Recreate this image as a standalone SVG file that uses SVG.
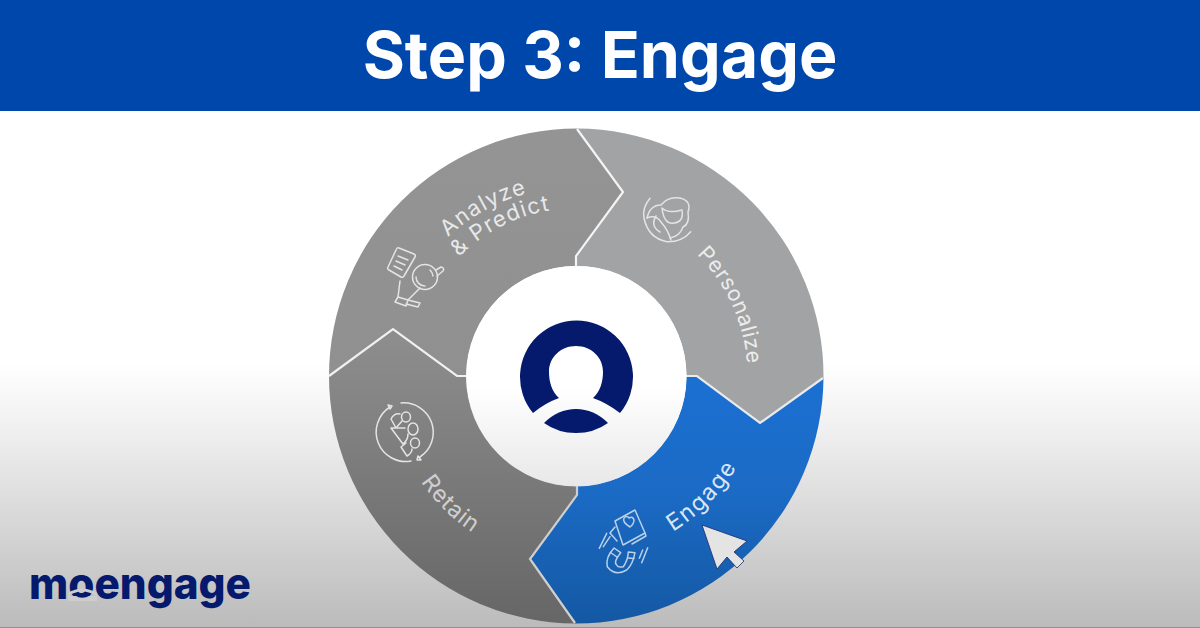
<svg xmlns="http://www.w3.org/2000/svg" width="1200" height="628" viewBox="0 0 1200 628">
<style>
.lab{font-family:"Inter","Liberation Sans",sans-serif;font-size:21.500px;font-weight:400;letter-spacing:.5px}
.wide{font-size:23px;letter-spacing:1px}
.pred{font-size:22px;letter-spacing:1.200px}
.ico{fill:none;stroke:#e4e4e4;stroke-width:1.500;stroke-linecap:round;stroke-linejoin:round}
.ico2{fill:none;stroke:#b9d0ea;stroke-width:1.500;stroke-linecap:round;stroke-linejoin:round}
.div{fill:none;stroke-width:2.200;stroke-linejoin:miter}
</style>
<defs>
<linearGradient id="bg" gradientUnits="userSpaceOnUse" x1="0" y1="0" x2="0" y2="628"><stop offset="0" stop-color="#fff"/><stop offset=".58" stop-color="#fff"/><stop offset=".7" stop-color="#ededed"/><stop offset="1" stop-color="#bbb"/></linearGradient>
<linearGradient id="gA" gradientUnits="userSpaceOnUse" x1="0" y1="129" x2="0" y2="376"><stop offset="0" stop-color="#949494"/><stop offset="1" stop-color="#909090"/></linearGradient>
<linearGradient id="gR" gradientUnits="userSpaceOnUse" x1="0" y1="340" x2="0" y2="624"><stop offset="0" stop-color="#8d8d8d"/><stop offset="1" stop-color="#666"/></linearGradient>
<linearGradient id="gE" gradientUnits="userSpaceOnUse" x1="0" y1="376" x2="0" y2="624"><stop offset="0" stop-color="#1b70d2"/><stop offset=".45" stop-color="#1b6bc6"/><stop offset="1" stop-color="#1458a3"/></linearGradient>
<linearGradient id="gC" gradientUnits="userSpaceOnUse" x1="0" y1="266" x2="0" y2="486"><stop offset="0" stop-color="#fff"/><stop offset=".55" stop-color="#fff"/><stop offset="1" stop-color="#e8e8e8"/></linearGradient>
<path id="pPers" d="M696.700,254.400 A171 171 0 0 1 744.900,405.700"/>
<path id="pAna" d="M448,237 A189 189 0 0 1 609.300,189.900"/>
<path id="pPred" d="M459,257 A167 167 0 0 1 634,218.100"/>
<path id="pEng" d="M673,531.500 A186 186 0 0 0 750.300,439.300"/>
<path id="pRet" d="M421,482 A188 188 0 0 0 543.900,561"/>
</defs>
<rect id="background" x="0" y="0" width="1200" height="628" fill="url(#bg)"/>
<rect x="0" y="627" width="1200" height="1" fill="#7d93b8"/>
<g id="header">
<rect x="0" y="0" width="1200" height="111" fill="#0047ab"/>
<text x="600" y="78" text-anchor="middle" font-family="Inter,'Liberation Sans',sans-serif" font-size="64.500" font-weight="700" fill="#fff">Step 3: Engage</text>
</g>
<g id="node-analyze">
<path d="M329,376 L393,329 L457,376 L466,376 A110.500 110.500 0 0 1 576,266 L576,256 L623,192 L577,128.500 A247.500 247.500 0 0 0 329,376Z" fill="url(#gA)"/>
<g class="ico">
<path d="M399,248 L414,254 Q416,255 415,257 L404,276 Q403,278 401,277 L389,270 Q387,269 388,267 L396,250 Q397,247 399,248Z"/>
<path d="M398,256 L408,260 M396,261 L405,265 M394,266 L402,270"/>
<circle cx="425" cy="277" r="12.500"/><path d="M416,277 A9 9 0 0 0 425,286 M430,270 A9 9 0 0 1 433,276"/>
<path d="M436,270 L441,267 Q445,268 443,271 L437,276"/>
<path d="M400,281 L398,297 M420,288 L408,300"/>
<path d="M398,297 L408,300 L406,306 L395,302Z M408,300 L420,303 L418,307 L406,304"/>
</g>
<text class="lab pred" fill="#e8e8e8"><textPath href="#pAna">Analyze</textPath></text>
<text class="lab pred" fill="#e8e8e8"><textPath href="#pPred">&amp; Predict</textPath></text>
</g>
<g id="node-personalize">
<path d="M577,128.500 L623,192 L576,256 L576,266 A110.500 110.500 0 0 1 686.500,376 L697,376 L760,423 L823.500,378 A247.500 247.500 0 0 0 577,128.500Z" fill="#a1a3a4"/>
<g class="ico">
<path d="M650,198.300 Q642,208 644,218 Q648,238 667,241.700 Q682,242 690.700,231.700"/>
<path d="M647,218 Q650,205 661,205 Q668,196 680,198 Q692,201 688,212 Q690,224 683,227 Q680,236 670,238"/>
<path d="M662,208 Q668,214 682,210 Q684,222 674,223 Q664,225 662,208Z"/>
<path d="M647,218 Q656,214 661,222 Q668,230 671,240 M656,216 Q650,226 660,232"/>
</g>
<text class="lab" fill="#ececec"><textPath href="#pPers">Personalize</textPath></text>
</g>
<g id="node-retain">
<path d="M329,376 L393,329 L457,376 L466,376 A110.500 110.500 0 0 0 577,486.500 L577,495 L530,559 L575,623.500 A247.500 247.500 0 0 1 329,376Z" fill="url(#gR)"/>
<g class="ico">
<path d="M390,407 A29.500 29.500 0 0 0 411,461 M401,403 A29.500 29.500 0 0 1 420,457"/>
<path d="M388,405 L392,406 L390,409Z M418,456 L421,460 L417,460Z"/>
<ellipse cx="406" cy="417" rx="4.500" ry="5"/><ellipse cx="413" cy="429" rx="5" ry="6"/><ellipse cx="415" cy="443" rx="4.500" ry="5"/>
<path d="M400,414 Q394,413 391,419 L396,428 L402,421 M405,428 L391,428 L403,444 Q408,440 408,434 M406,443 L401,447 L407,456 Q412,453 412,449"/>
</g>
<text class="lab wide" fill="#cfcfcf"><textPath href="#pRet">Retain</textPath></text>
</g>
<g id="node-engage">
<path d="M823.500,378 L760,423 L697,376 L686.500,376 A110.500 110.500 0 0 1 577,486.500 L577,495 L530,559 L575,623.500 A247.500 247.500 0 0 0 823.500,378Z" fill="url(#gE)"/>
<g class="ico2">
<path d="M615,521 L635,510 L645,533 L623,545Z"/>
<path d="M630,527 Q622,522 624,518 Q627,515 629,518 Q633,516 634,520 Q634,524 630,527Z"/>
<path d="M615,527 L610,533 L617,541 M645,533 L646,536 L632,544"/>
<path d="M606.700,533.300 L599.300,548.300 M610,536.700 L603.300,546.700 M647.700,547.700 L641.700,562.700 M642.700,550 L639.300,558.300"/>
<path d="M614,548 Q605,558 607.300,566.700 Q615,576.700 626.700,570 Q632.700,565 635,552.700 L628.300,552 Q628,560 623.300,566.700 Q618,568 616.700,565 Q613,562 620.700,552.700Z"/>
<path d="M610.500,552.500 L617,557 M628.300,558 L634,558.500"/>
</g>
<text class="lab wide" style="letter-spacing:1.800px" fill="#d8e6f5"><textPath href="#pEng">Engage</textPath></text>
</g>
<g id="connectors">
<path class="div" stroke="#f4f4f4" d="M577,129 L623,192 L576,256 L576,266"/>
<path class="div" stroke="#f0f0f0" d="M329,376 L393,329 L457,376 L466,376"/>
<path class="div" stroke="#eaeaea" d="M686,376 L697,376 L760,423 L823,378"/>
<path class="div" stroke="#cfcfcf" d="M577,486 L577,495 L530,559 L575,623"/>
</g>
<g id="node-center">
<circle cx="576.500" cy="376" r="110" fill="url(#gC)"/>
<path d="M533,413 A56.500 56.500 0 1 1 620,413 Q607,403 593,398 C600,392 603,382 603,372 C603,357 591,346 576,346 C561,346 549,357 549,372 C549,382 552,392 559,398 Q545,403 533,413Z" fill="#051a6c"/>
<path d="M544,423 Q558,409 576,409 Q594,409 608,423 Q594,433 576,433 Q558,433 544,423Z" fill="#051a6c"/>
</g>
<g id="cursor">
<path d="M702,525 L747,541 L734,552 L744,561 L737,568 L727,557 L717,569Z" fill="#e4e4e4" stroke="#1b2a6b" stroke-width=".8" stroke-linejoin="round"/>
</g>
<g id="logo">
<text x="29" y="599" font-family="Inter,'Liberation Sans',sans-serif" font-size="44" font-weight="800" fill="#051a6c" textLength="222" lengthAdjust="spacingAndGlyphs">moengage</text>
<path d="M68,596 Q82,587 97,596 L97,593 Q82,584 68,593Z" fill="#cdcdcd"/>
<path d="M68,596 L97,596 L97,601 L68,601Z" fill="#cdcdcd"/>
<path d="M75,595.500 Q82,590.500 90,595.500 Q82,600 75,595.500Z" fill="#051a6c"/>
</g>
</svg>
